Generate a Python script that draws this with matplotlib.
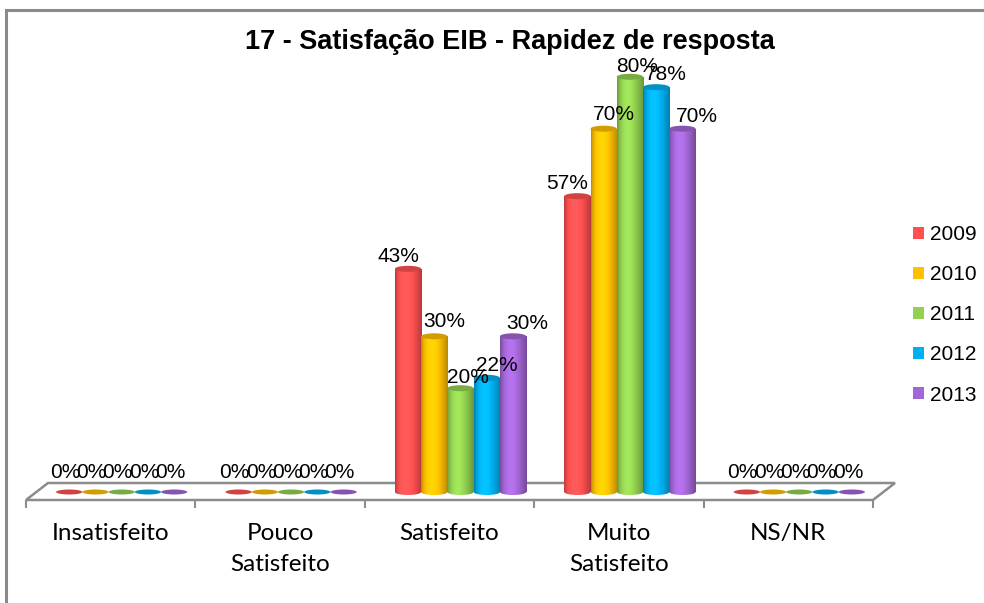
import numpy as np
import matplotlib
matplotlib.use("Agg")
from matplotlib import pyplot as plt
from matplotlib.patches import Polygon, Rectangle, Ellipse
from matplotlib.colors import to_rgb

categories = ["Insatisfeito", "Pouco\nSatisfeito", "Satisfeito", "Muito\nSatisfeito", "NS/NR"]
years = ["2009", "2010", "2011", "2012", "2013"]
v2009 = [0, 0, 43, 57, 0]
v2010 = [0, 0, 30, 70, 0]
v2011 = [0, 0, 20, 80, 0]
v2012 = [0, 0, 22, 78, 0]
v2013 = [0, 0, 30, 70, 0]
colors = ["#FF5050", "#FFC000", "#92D050", "#00B0F0", "#A366D6"]
title = "17 - Satisfação EIB - Rapidez de resposta"

series = [v2009, v2010, v2011, v2012, v2013]

W, H = 984, 603
fig = plt.figure(figsize=(W / 100, H / 100), dpi=100)

# pixel geometry of the plot plane (mid depth of the 3D floor)
px_cat = 169.4
px_pct = 5.19
x0_px = 37
base_px = 492
ymin, ymax = -5, 85
ax_h = (ymax - ymin) * px_pct
ax_bottom_px = base_px - ymin * px_pct
ax = fig.add_axes([x0_px / W, (H - ax_bottom_px) / H, 5 * px_cat / W, ax_h / H])
ax.set_axis_off()

dx = 11 / px_cat      # depth offset in x
dy_front = 8 / px_pct
dy_back = 9 / px_pct
gray = "#8C8C8C"

# floor
floor = Polygon([(-0.5 - dx, -dy_front), (4.5 - dx, -dy_front),
                 (4.5 + dx, dy_back), (-0.5 + dx, dy_back)],
                closed=True, facecolor="white", edgecolor=gray, lw=1.8, zorder=1,
                clip_on=False)
ax.add_patch(floor)
tick_len = 8 / px_pct
for k in range(6):
    ax.plot([k - 0.5 - dx, k - 0.5 - dx], [-dy_front, -dy_front - tick_len],
            color=gray, lw=1.5, zorder=1, solid_capstyle="butt", clip_on=False)

bw = 0.155
eh = 6 / px_pct
t = np.linspace(0, 1, 64)
shade = 0.72 + 0.38 * np.sin(np.pi * t ** 0.75)
label_dx = [-10, 10, 7, 10, 14]
label_dy = [0, 2, -2, 0, 0]

for j, (vals, col) in enumerate(zip(series, colors)):
    c = np.array(to_rgb(col))
    grad = np.clip(c[None, :] * shade[:, None] + 0.12 * np.clip(shade[:, None] - 1, 0, None), 0, 1)
    grad = grad[None, :, :]
    top_col = np.clip(c * 0.82, 0, 1)
    for i, v in enumerate(vals):
        xc = i + (j - 2) * bw
        xl, xr = xc - bw / 2, xc + bw / 2
        if v > 0:
            rect = Rectangle((xl, 0), bw, v, transform=ax.transData)
            im = ax.imshow(grad, extent=[xl, xr, 0, v], aspect="auto", zorder=2 + j * 0.01,
                           interpolation="bilinear")
            im.set_clip_path(rect)
            bot = Ellipse((xc, 0), bw, eh, transform=ax.transData)
            im2 = ax.imshow(grad, extent=[xl, xr, -eh / 2, eh / 2], aspect="auto",
                            zorder=2 + j * 0.01, interpolation="bilinear")
            im2.set_clip_path(bot)
            ax.add_patch(Ellipse((xc, v), bw, eh, facecolor=top_col, edgecolor="none",
                                 zorder=2.1 + j * 0.01))
            ax.annotate(f"{v}%", (xc, v + eh / 2), xytext=(label_dx[j], label_dy[j]),
                        textcoords="offset pixels", ha="center", va="bottom",
                        fontsize=15, family="Liberation Sans", color="black", zorder=5)
        else:
            ax.add_patch(Ellipse((xc, 0), bw, 5 / px_pct, facecolor=top_col,
                                 edgecolor="none", zorder=2))
            ax.annotate("0%", (xc, 0), xytext=(-4, 10), textcoords="offset pixels",
                        ha="center", va="bottom", fontsize=15,
                        family="Liberation Sans", color="black", zorder=5)

for i, cat in enumerate(categories):
    ax.text(i - dx, -dy_front - 23 / px_pct, cat, ha="center", va="top",
            fontsize=17.5, family="Lato", linespacing=1.6)

ax.set_xlim(-0.5, 4.5)
ax.set_ylim(ymin, ymax)

fig.text(510 / W, 1 - 42 / H, title, ha="center", va="center",
         fontsize=19.5, fontweight="bold", family="Liberation Sans")

handles = [Rectangle((0, 0), 1, 1, facecolor=c) for c in colors]
leg = fig.legend(handles, years, loc="upper left", bbox_to_anchor=(905 / W, 1 - 217 / H),
                 frameon=False, prop={"family": "Liberation Sans", "size": 15},
                 handlelength=0.5, handleheight=0.5, handletextpad=0.3,
                 labelspacing=1.01, borderaxespad=0)

# outer chart frame
fig.add_artist(Rectangle((6 / W, -0.1), 1.2, 1 - 10 / H + 0.1, transform=fig.transFigure,
                         facecolor="none", edgecolor="#8A8A8A", lw=2.2))

fig.savefig("out.png", dpi=100)
